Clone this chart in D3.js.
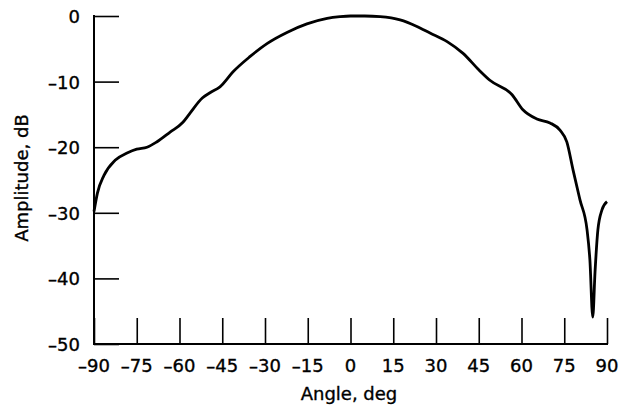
<!DOCTYPE html>
<html>
<head>
<meta charset="utf-8">
<script src="https://cdn.jsdelivr.net/npm/d3@7"></script>
<style>
  body { margin: 0; background: #fff; }
  text { font-family: "DejaVu Sans", sans-serif; fill: #000; stroke: #000; stroke-width: 0.35px; }
</style>
</head>
<body>
<script>
const w = 623, h = 409;
const margin = {top: 16, right: 16, bottom: 65, left: 94};

// pattern data
const angles = [-90, -88.8, -86.5, -82.6, -78.4, -75, -71.4, -68, -63.3, -58.8, -56.3, -52, -49.3, -45.8,
  -41.2, -35.3, -29.3, -22.3, -15.3, -8.2, -3.7, 0, 5, 10.4, 17.4, 23.3, 27.9, 33.9, 39.5, 45,
  48.9, 56.7, 60.5, 65.4, 70, 73.5, 75.9, 78.1, 80.5, 83, 84, 85, 85.8, 86.8, 88.2, 90];
const amplitude = [-29.8, -27, -24.3, -22, -20.9, -20.3, -20, -19.2, -17.7, -16.2, -14.8, -12.5, -11.7, -10.8,
  -8.5, -6.2, -4.2, -2.5, -1.2, -0.35, -0.1, 0, 0, -0.1, -0.6, -1.6, -2.6, -3.9, -5.7, -8.2,
  -9.8, -12, -14.3, -15.7, -16.3, -17.4, -19.2, -23.5, -28, -32.6, -37.2, -45.9, -39, -32.6, -29.6, -28.3];

const xTicks = [-90, -75, -60, -45, -30, -15, 0, 15, 30, 45, 60, 75, 90];
const yTicks = [0, -10, -20, -30, -40, -50];

const svg = d3.select("body")
  .append("svg")
  .attr("width", w)
  .attr("height", h);

const xScale = d3.scaleLinear()
  .domain([-90, 90])
  .range([margin.left, 607]);
const yScale = d3.scaleLinear()
  .domain([-50, 0])
  .range([344, margin.top]);

const fmt = d => d < 0 ? "\u2013" + Math.abs(d) : String(d);

// y axis: ticks point inward (to the right)
const yAxis = d3.axisRight(yScale)
  .tickValues(yTicks)
  .tickSize(25)
  .tickFormat("");
const gy = svg.append("g")
  .attr("id", "y-axis")
  .attr("transform", "translate(" + margin.left + ",0)")
  .call(yAxis);
gy.select(".domain").remove();
gy.selectAll(".tick line").attr("stroke", "#000").attr("stroke-width", 1.6);

svg.append("line")
  .attr("x1", margin.left).attr("x2", margin.left)
  .attr("y1", yScale(0) - 1).attr("y2", yScale(-50) + 1)
  .attr("stroke", "#000").attr("stroke-width", 2);

svg.selectAll(".ylab")
  .data(yTicks)
  .enter()
  .append("text")
  .attr("class", "ylab")
  .attr("x", 80)
  .attr("y", d => yScale(d) + 7)
  .attr("text-anchor", "end")
  .style("font-size", "18px")
  .text(fmt);

// x axis: ticks point inward (upward)
const xAxis = d3.axisTop(xScale)
  .tickValues(xTicks)
  .tickSize(26)
  .tickFormat("");
const gx = svg.append("g")
  .attr("id", "x-axis")
  .attr("transform", "translate(0," + yScale(-50) + ")")
  .call(xAxis);
gx.select(".domain").remove();
gx.selectAll(".tick line").attr("stroke", "#000").attr("stroke-width", 1.6);

svg.append("line")
  .attr("x1", margin.left).attr("x2", xScale(90) + 1)
  .attr("y1", yScale(-50)).attr("y2", yScale(-50))
  .attr("stroke", "#000").attr("stroke-width", 2);

svg.selectAll(".xlab")
  .data(xTicks)
  .enter()
  .append("text")
  .attr("class", "xlab")
  .attr("x", d => xScale(d))
  .attr("y", 372)
  .attr("text-anchor", "middle")
  .style("font-size", "18px")
  .text(fmt);

// the curve
const line = d3.line()
  .x((d, i) => xScale(angles[i]))
  .y(d => yScale(d))
  .curve(d3.curveMonotoneX);

svg.append("path")
  .datum(amplitude)
  .attr("d", line)
  .attr("fill", "none")
  .attr("stroke", "#000")
  .attr("stroke-width", 2.8)
  .attr("stroke-linejoin", "round");

// axis titles
svg.append("text")
  .attr("x", 349)
  .attr("y", 400)
  .attr("text-anchor", "middle")
  .style("font-size", "18px")
  .text("Angle, deg");

svg.append("text")
  .attr("transform", "translate(28,178) rotate(-90)")
  .attr("text-anchor", "middle")
  .style("font-size", "18px")
  .text("Amplitude, dB");
</script>
</body>
</html>
